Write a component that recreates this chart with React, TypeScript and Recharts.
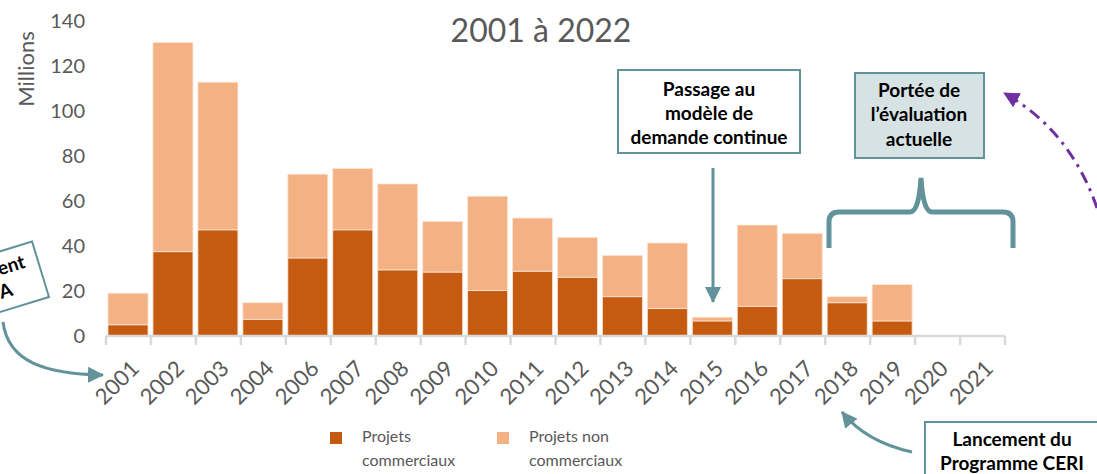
import React from 'react';
import { BarChart, Bar, XAxis, YAxis, Legend } from 'recharts';

const years = ['2001','2002','2003','2004','2006','2007','2008','2009','2010','2011','2012','2013','2014','2015','2016','2017','2018','2019','2020','2021'];
const projetsCommerciaux = [5.0,37.5,47.2,7.4,34.7,47.2,29.4,28.4,20.2,28.8,26.1,17.5,12.2,6.7,13.2,25.5,14.8,6.7,0,0];
const projetsNonCommerciaux = [14.0,93.0,65.6,7.4,37.2,27.3,38.2,22.5,41.9,23.6,17.7,18.3,29.1,1.6,36.1,20.1,2.7,16.2,0,0];
const yTicks = [0,20,40,60,80,100,120,140];
const seriesNames = ['Projets commerciaux','Projets non commerciaux'];
const seriesLines = [['Projets','commerciaux'],['Projets non','commerciaux']];
const titleText = '2001 à 2022';
const yUnit = 'Millions';

const data = years.map((y, i) => ({ year: y, com: projetsCommerciaux[i], noncom: projetsNonCommerciaux[i] }));

const DARK = '#c55a11';
const LIGHT = '#f4b183';
const GRAY = '#595959';
const TEAL = '#62939a';
const PURPLE = '#7030a0';
const FONT = 'Lato, "Open Sans", sans-serif';

const W = 1097;
const H = 474;
const PLOT_LEFT = 106;
const PLOT_RIGHT = 1005;
const HALF = (PLOT_RIGHT - PLOT_LEFT) / years.length / 2;

const XTick = (props: any) => {
  const { x, y, payload, index } = props;
  const last = index === years.length - 1;
  const ax = x + 12;
  const ay = y + 34;
  return (
    <g>
      <line x1={x - HALF} y1={y} x2={x - HALF} y2={y + 9} stroke="#d9d9d9" strokeWidth={2.5} />
      {last && <line x1={x + HALF} y1={y} x2={x + HALF} y2={y + 9} stroke="#d9d9d9" strokeWidth={2.5} />}
      <text
        x={ax}
        y={ay}
        transform={`rotate(-45, ${ax}, ${ay})`}
        textAnchor="end"
        fill={GRAY}
        fontSize={22}
        fontFamily={FONT}
      >
        {payload.value}
      </text>
    </g>
  );
};

const LegendContent = () => (
  <div style={{ display: 'flex', fontFamily: FONT, fontSize: 16, color: GRAY, lineHeight: '24px' }}>
    {[DARK, LIGHT].map((c, i) => (
      <div key={i} style={{ display: 'flex', alignItems: 'flex-start', width: 167 }}>
        <div style={{ width: 12, height: 12, background: c, marginTop: 8, marginRight: 20, flexShrink: 0 }} />
        <div>
          <div>{seriesLines[i][0]}</div>
          <div>{seriesLines[i][1]}</div>
        </div>
      </div>
    ))}
  </div>
);

const Arrow = ({ id, color }: { id: string; color: string }) => (
  <marker id={id} viewBox="0 0 16 16" markerWidth={16} markerHeight={16} refX={15} refY={8} orient="auto" markerUnits="userSpaceOnUse">
    <path d="M0,0 L16,8 L0,16 z" fill={color} />
  </marker>
);

export default function App() {
  const boxText = { fontFamily: FONT, fontWeight: 700, fontSize: 19, fill: '#000', textAnchor: 'middle' as const };
  return (
    <div style={{ position: 'absolute', left: 0, top: 0, width: W, height: H, background: '#fff', overflow: 'hidden' }}>
      <BarChart width={W} height={H} data={data} margin={{ top: 21, right: W - PLOT_RIGHT, left: 0, bottom: 78 }} barSize={40}>
        <XAxis
          dataKey="year"
          interval={0}
          tickLine={false}
          tickSize={0}
          tickMargin={0}
          height={60}
          axisLine={{ stroke: '#d9d9d9', strokeWidth: 2.5 }}
          tick={<XTick />}
        />
        <YAxis
          width={PLOT_LEFT}
          domain={[0, 140]}
          ticks={yTicks}
          axisLine={false}
          tickLine={false}
          tickMargin={15}
          tick={{ fill: GRAY, fontSize: 20, fontFamily: FONT }}
        />
        <Legend
          verticalAlign="middle"
          align="center"
          content={<LegendContent />}
          wrapperStyle={{ top: 424, left: 330, width: 340, height: 50 }}
        />
        <Bar dataKey="com" name={seriesNames[0]} stackId="a" fill={DARK} stroke="#fbe3d3" strokeWidth={0.8} isAnimationActive={false} />
        <Bar dataKey="noncom" name={seriesNames[1]} stackId="a" fill={LIGHT} stroke="#fbe3d3" strokeWidth={0.8} isAnimationActive={false} />
      </BarChart>
      <svg width={W} height={H} style={{ position: 'absolute', left: 0, top: 0, pointerEvents: 'none' }}>
        <defs>
          <Arrow id="arrT" color={TEAL} />
          <Arrow id="arrP" color={PURPLE} />
        </defs>
        <text x={541} y={42} textAnchor="middle" fill={GRAY} fontSize={32} fontFamily={FONT}>{titleText}</text>
        <text transform="translate(34,69) rotate(-90)" textAnchor="middle" fill={GRAY} fontSize={22} fontFamily={FONT}>{yUnit}</text>

        {/* left cut-off box */}
        <g transform="translate(49,297) rotate(-17)">
          <rect x={-150} y={-58} width={150} height={58} fill="#fff" stroke={TEAL} strokeWidth={2} />
          <text x={-13} y={-35} {...boxText} textAnchor="end">Lancement</text>
          <text x={-33} y={-12} {...boxText} textAnchor="end">A</text>
        </g>
        <path d="M3,322 C8,362 45,374 103,375" fill="none" stroke={TEAL} strokeWidth={3} markerEnd="url(#arrT)" />

        {/* Passage box */}
        <rect x={618} y={70} width={182} height={83} fill="#fff" stroke={TEAL} strokeWidth={2} />
        <text x={709} y={96} {...boxText}>Passage au</text>
        <text x={709} y={120} {...boxText}>modèle de</text>
        <text x={709} y={144} {...boxText}>demande continue</text>
        <path d="M713,168 L713,302" fill="none" stroke={TEAL} strokeWidth={3} markerEnd="url(#arrT)" />

        {/* Portée box */}
        <rect x={855} y={73} width={129} height={85} fill="#d6e2e4" stroke={TEAL} strokeWidth={2} />
        <text x={919} y={97} {...boxText}>Portée de</text>
        <text x={919} y={121} {...boxText}>l’évaluation</text>
        <text x={919} y={146} {...boxText}>actuelle</text>

        {/* brace */}
        <path d="M829,248 L829,222 Q829,212 839,212 L910,212 Q919,212 921,178 Q923,212 932,212 L1003,212 Q1013,212 1013,222 L1013,248"
          fill="none" stroke={TEAL} strokeWidth={5} />

        {/* purple arrow */}
        <path d="M1097,208 Q1070,130 1004,93" fill="none" stroke={PURPLE} strokeWidth={3} strokeDasharray="12 6 3 6" markerEnd="url(#arrP)" />

        {/* CERI box */}
        <rect x={925} y={422} width={190} height={70} fill="#fff" stroke={TEAL} strokeWidth={2} />
        <text x={1012} y={446} {...boxText}>Lancement du</text>
        <text x={1012} y={470} {...boxText}>Programme CERI</text>
        <path d="M912,452 Q866,442 842,412" fill="none" stroke={TEAL} strokeWidth={3} markerEnd="url(#arrT)" />
      </svg>
    </div>
  );
}
